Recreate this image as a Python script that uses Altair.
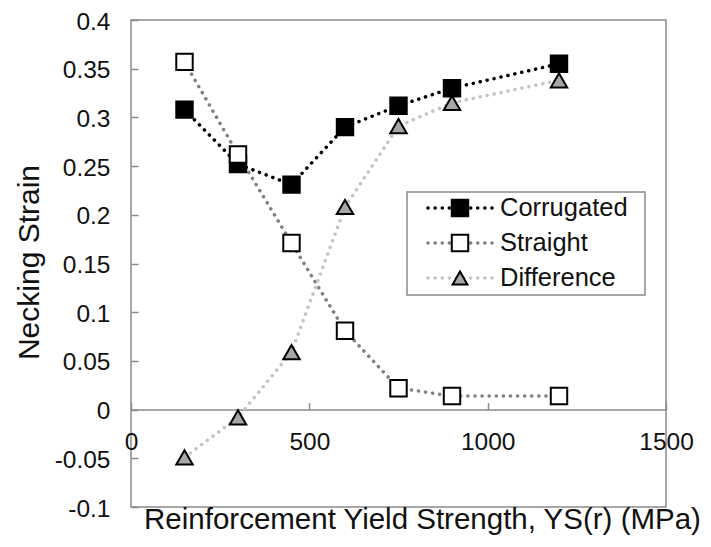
import altair as alt
import pandas as pd

# ---- data ----
x_vals = [150, 300, 450, 600, 750, 900, 1200]
corrugated = [0.308, 0.252, 0.231, 0.290, 0.312, 0.330, 0.355]
straight = [0.357, 0.262, 0.171, 0.081, 0.022, 0.014, 0.014]
difference = [-0.049, -0.008, 0.059, 0.208, 0.291, 0.315, 0.338]
series_names = ["Corrugated", "Straight", "Difference"]
y_ticks = [-0.1, -0.05, 0, 0.05, 0.1, 0.15, 0.2, 0.25, 0.3, 0.35, 0.4]
x_ticks = [0, 500, 1000, 1500]

rows = []
for name, vals in zip(series_names, [corrugated, straight, difference]):
    for xv, yv in zip(x_vals, vals):
        rows.append({"series": name, "ys": xv, "strain": yv})
df = pd.DataFrame(rows)

# ---- styling ----
W, H = 535, 487
zero_px = H * 0.4 / 0.5
FONT = "Liberation Sans"
GRAY = "#8a8a8a"
line_colors = ["#000000", "#7f7f7f", "#c4c4c4"]
fills = ["#000000", "#ffffff", "#a6a6a6"]
shapes = ["square", "square", "triangle-up"]
sizes = [270, 270, 220]
DASH = [0.1, 7]

xscale = alt.Scale(domain=[0, 1500], nice=False, zero=False)
yscale = alt.Scale(domain=[-0.1, 0.4], nice=False, zero=False)

base = alt.Chart(df)

lines = base.mark_line(strokeDash=DASH, strokeCap="round", strokeWidth=3.5).encode(
    x=alt.X("ys:Q", scale=xscale,
            axis=alt.Axis(orient="top", offset=-zero_px, values=x_ticks, labels=False,
                          ticks=True, tickSize=7, tickColor=GRAY, tickWidth=1.5,
                          domain=True, domainColor=GRAY, domainWidth=1.5, grid=False, title=None)),
    y=alt.Y("strain:Q", scale=yscale,
            axis=alt.Axis(orient="left", offset=-7, values=y_ticks,
                          labelExpr="datum.value < 0 ? '-' + format(-datum.value, '.2~f') : format(datum.value, '.2~f')",
                          tickSize=7, tickColor=GRAY, tickWidth=1.5, domain=False, grid=False,
                          labelFontSize=24.5, labelFont=FONT, labelColor="#111", labelPadding=21,
                          labelOffset=2, labelFlush=False, title="Necking Strain", titleFontSize=30,
                          titleFont=FONT, titleFontWeight="normal", titleColor="#111",
                          titleX=-94, titleY=242, titleBaseline="bottom")),
    color=alt.Color("series:N", scale=alt.Scale(domain=series_names, range=line_colors), legend=None),
)

points = base.mark_point(filled=True, stroke="black", strokeWidth=2, opacity=1).encode(
    x=alt.X("ys:Q", scale=xscale,
            axis=alt.Axis(orient="bottom", offset=-(H - zero_px), values=x_ticks, ticks=False,
                          tickSize=0, domain=False, grid=False, labelFontSize=24.5, labelFont=FONT,
                          labelColor="#111", labelPadding=21, labelFlush=False, format="d",
                          title="Reinforcement Yield Strength, YS(r) (MPa)", titleFontSize=29.5,
                          titleFont=FONT, titleFontWeight="normal", titleColor="#111",
                          titleX=291, titleY=119, titleBaseline="alphabetic")),
    y=alt.Y("strain:Q", scale=yscale),
    fill=alt.Fill("series:N", scale=alt.Scale(domain=series_names, range=fills), legend=None),
    shape=alt.Shape("series:N", scale=alt.Scale(domain=series_names, range=shapes), legend=None),
    size=alt.Size("series:N", scale=alt.Scale(domain=series_names, range=sizes), legend=None),
)

# ---- manual legend (line sample through marker) ----
one = pd.DataFrame({"k": [0]})
leg_layers = [
    alt.Chart(one).mark_rect(fill="white", stroke=GRAY, strokeWidth=1.5).encode(
        x=alt.value(276), x2=alt.value(514), y=alt.value(172), y2=alt.value(275))
]
row_y = [188, 223, 258]
for name, ly, lc, fc, sh, sz in zip(series_names, row_y, line_colors, fills, shapes, sizes):
    leg_layers.append(
        alt.Chart(one).mark_rule(strokeDash=DASH, strokeCap="round", strokeWidth=3.5, color=lc).encode(
            x=alt.value(297), x2=alt.value(361), y=alt.value(ly)))
    leg_layers.append(
        alt.Chart(one).mark_point(filled=True, fill=fc, stroke="black", strokeWidth=2, opacity=1,
                                  shape=sh, size=sz).encode(x=alt.value(329), y=alt.value(ly)))
    leg_layers.append(
        alt.Chart(one).mark_text(text=name, align="left", baseline="middle", fontSize=25.5,
                                 font=FONT, color="#111").encode(x=alt.value(369), y=alt.value(ly)))

chart = alt.layer(lines, points, *leg_layers).resolve_axis(x="independent").properties(
    width=W, height=H,
    autosize=alt.AutoSizeParams(type="none"),
    padding={"left": 123, "top": 12, "right": 37, "bottom": 28},
).configure_view(stroke=GRAY, strokeWidth=1.5)

chart.save("out.html", embed_options={"renderer": "svg", "actions": False})
